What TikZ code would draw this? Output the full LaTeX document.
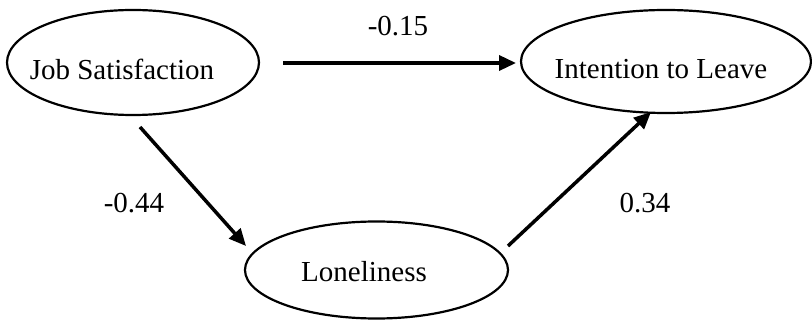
\documentclass[tikz,border=0pt]{standalone}
\usepackage{fontspec}
\setmainfont{Liberation Serif}
\usetikzlibrary{shapes.geometric,arrows.meta}
\tikzset{
  ell/.style={draw=black, line width=2.2pt, ellipse, inner sep=0pt},
  lbl/.style={anchor=base, inner sep=0pt, font=\fontsize{29}{34}\selectfont},
  arr/.style={line width=3.5pt, -{Triangle[length=17pt,width=15pt]}},
}
\begin{document}
\begin{tikzpicture}[x=1pt,y=-1pt]
\useasboundingbox (0,0) rectangle (812,320);
% ellipses
\node[ell, minimum width=252pt, minimum height=105pt] (js) at (133,62.5) {};
\node[ell, minimum width=290pt, minimum height=103pt] (itl) at (666,61.5) {};
\node[ell, minimum width=263pt, minimum height=97pt] (lon) at (376.5,270) {};
% texts
\node[lbl] (jst) at (122,79.5) {Job Satisfaction};
\node[lbl] (itlt) at (661,79) {Intention to Leave};
\node[lbl] (lont) at (364,282) {Loneliness};
% connector endpoints
\coordinate (a1s) at (283,63);
\coordinate (a1e) at (516,63);
\coordinate (a2s) at (140,127);
\coordinate (a2e) at (246,246);
\coordinate (a3s) at (508,246);
\coordinate (a3e) at (651,112);
\draw[arr] (a1s) -- (a1e);
\draw[arr] (a2s) -- (a2e);
\draw[arr] (a3s) -- (a3e);
% coefficients
\node[lbl] (c1) at (398,36) {-0.15};
\node[lbl] (c2) at (134,213) {-0.44};
\node[lbl] (c3) at (645,213) {0.34};
\end{tikzpicture}
\end{document}
